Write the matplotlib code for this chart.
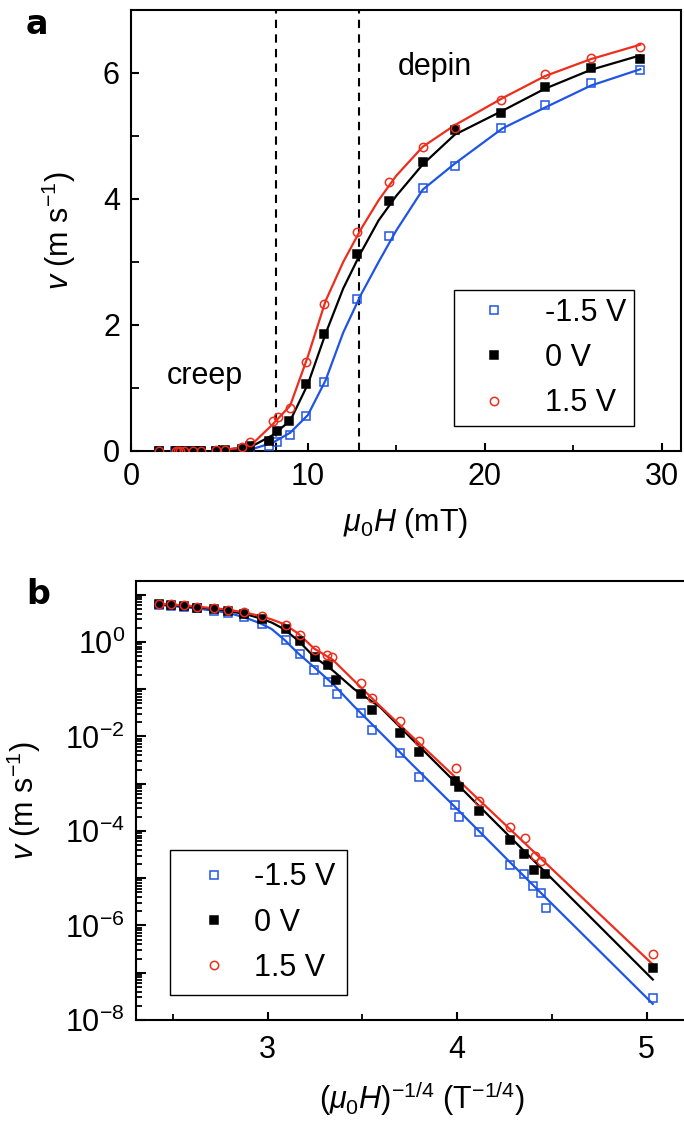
"""
Domain-wall velocity vs field at three gate voltages.
(a) linear v vs mu0H, (b) creep plot: log v vs (mu0H)^-1/4.
"""
import numpy as np
import matplotlib
matplotlib.use("Agg")
import matplotlib.pyplot as plt
from matplotlib.ticker import FixedLocator, LogLocator, FuncFormatter, NullFormatter

BLUE = "#1f55e4"; RED = "#ee2e1c"; INK = "black"
FS = 22
plt.rcParams.update({"font.family": "Liberation Sans", "font.size": FS,
    "mathtext.fontset": "custom", "mathtext.rm": "Liberation Sans",
    "mathtext.it": "Liberation Sans:italic", "mathtext.default": "it",
    "axes.linewidth": 1.5, "xtick.direction": "in", "ytick.direction": "in",
    "xtick.major.width": 1.5, "ytick.major.width": 1.5,
    "xtick.minor.width": 1.3, "ytick.minor.width": 1.3,
    "xtick.major.size": 6, "ytick.major.size": 6,
    "xtick.minor.size": 4, "ytick.minor.size": 4,
    "xtick.major.pad": 8, "ytick.major.pad": 8})

# ---- measured points: field (mT) and velocity (m/s) ---------------------------
labels = ["-1.5 V", "0 V", "1.5 V"]

H_neg = [1.56, 2.51, 2.57, 2.67, 2.78, 2.98, 3.48, 3.86, 3.95, 4.80, 5.33, 6.30, 6.72,
         7.81, 8.24, 9.0, 9.9, 10.9, 12.8, 14.6, 16.5, 18.3, 20.9, 23.4, 26.0, 28.8]
v_neg = [2.9e-8, 2.4e-6, 4.9e-6, 6.8e-6, 1.2e-5, 1.9e-5, 9.3e-5, 2.0e-4, 3.5e-4, 1.4e-3,
         4.5e-3, 0.0138, 0.031, 0.079, 0.14, 0.26, 0.55, 1.10, 2.42, 3.42, 4.17, 4.52,
         5.13, 5.50, 5.84, 6.04]

H_zero = [1.56, 2.52, 2.65, 2.78, 2.98, 3.48, 3.86, 3.95, 4.80, 5.33, 6.30, 6.72, 7.83,
          8.24, 8.95, 9.9, 10.9, 12.8, 14.6, 16.5, 18.3, 20.9, 23.4, 26.0, 28.8]
v_zero = [1.23e-7, 1.2e-5, 1.5e-5, 3.2e-5, 6.6e-5, 2.7e-4, 8.7e-4, 1.17e-3, 4.8e-3, 0.012,
          0.037, 0.079, 0.155, 0.32, 0.47, 1.07, 1.86, 3.12, 3.97, 4.58, 5.10, 5.36,
          5.77, 6.08, 6.22]

H_pos = [1.56, 2.57, 2.64, 2.77, 2.98, 3.48, 3.93, 4.80, 5.33, 6.30, 6.72, 8.03, 8.31,
         8.97, 9.9, 10.9, 12.8, 14.6, 16.5, 18.3, 20.9, 23.4, 26.0, 28.8]
v_pos = [2.45e-7, 2.3e-5, 2.9e-5, 7.1e-5, 1.23e-4, 4.3e-4, 2.1e-3, 8.1e-3, 0.021, 0.066,
         0.137, 0.47, 0.54, 0.68, 1.42, 2.34, 3.48, 4.27, 4.83, 5.13, 5.57, 5.98, 6.24, 6.42]

# ---- fitted curves at fixed field values ---------------------------------------
H_fit = [1.56, 2.5, 3.0, 3.5, 4.0, 5.0, 6.0, 7.0, 8.0, 9.0, 10.0, 11.0, 12.0, 13.0,
         14.0, 15.0, 16.5, 18.3, 21.0, 23.4, 26.0, 28.8]
fit_neg = [2.2e-8, 3.7e-6, 2.3e-5, 1.03e-4, 3.6e-4, 2.6e-3, 0.0123, 0.043, 0.13, 0.29,
           0.57, 1.12, 1.88, 2.48, 3.0, 3.5, 4.15, 4.56, 5.12, 5.45, 5.80, 6.06]
fit_zero = [7.2e-8, 1.26e-5, 7.9e-5, 3.5e-4, 1.22e-3, 8.9e-3, 0.042, 0.10, 0.25, 0.48,
            1.06, 1.86, 2.58, 3.15, 3.66, 4.05, 4.55, 5.02, 5.40, 5.75, 6.05, 6.28]
fit_pos = [1.5e-7, 2.0e-5, 1.15e-4, 4.7e-4, 1.55e-3, 0.0101, 0.044, 0.15, 0.42, 0.72,
           1.50, 2.38, 3.00, 3.52, 3.98, 4.37, 4.83, 5.17, 5.60, 5.95, 6.22, 6.45]

H_bounds = [8.2, 12.9]          # creep / depinning boundaries (mT)

series = [(H_neg, v_neg, fit_neg, BLUE, "s", "none"),
          (H_zero, v_zero, fit_zero, INK, "s", INK),
          (H_pos, v_pos, fit_pos, RED, "o", "none")]

def inv_quarter(h_mT):
    return (np.asarray(h_mT) / 1000.0) ** -0.25

W, Hpx = 684, 1122
fig = plt.figure(figsize=(W / 100, Hpx / 100), dpi=100)
axa = fig.add_axes([131 / W, 1 - 451 / Hpx, 550 / W, 441 / Hpx])
axb = fig.add_axes([136 / W, 1 - 1020 / Hpx, 572 / W, 439 / Hpx])

# ---- (a) linear --------------------------------------------------------------
Hf = np.asarray(H_fit)
for H, v, fit, c, m, fc in series:
    keep = Hf >= 5
    axa.plot(Hf[keep], np.asarray(fit)[keep], color=c, lw=1.6, zorder=2)
for H, v, fit, c, m, fc in series:
    axa.plot(H, v, ls="none", marker=m, ms=6, mfc=fc, mec=c, mew=1.1, zorder=3)
for h in H_bounds:
    axa.axvline(h, color=INK, ls=(0, (4, 3)), lw=1.5, zorder=1)
axa.set_xlim(0, 31.1); axa.set_ylim(0, 7)
axa.set_xticks([0, 10, 20, 30]); axa.set_xticks([5, 15, 25], minor=True)
axa.set_yticks([0, 2, 4, 6]); axa.set_yticks([1, 3, 5], minor=True)
axa.yaxis.set_tick_params(which="minor", length=6)
axa.set_xlabel(r"$\mu_0H$ (mT)", labelpad=10)
axa.set_ylabel(r"$v$ (m s$^{-1}$)")
axa.yaxis.set_label_coords(-0.096, 0.5)
axa.text(17.2, 6.1, "depin", ha="center", va="center", fontsize=FS)
axa.text(4.2, 1.19, "creep", ha="center", va="center", fontsize=FS)

# ---- (b) creep scaling -------------------------------------------------------
for H, v, fit, c, m, fc in series:
    axb.plot(inv_quarter(H_fit), fit, color=c, lw=1.6, zorder=2)
hb = []
for (H, v, fit, c, m, fc), lab in zip(series, labels):
    hb.append(axb.plot(inv_quarter(H), v, ls="none", marker=m, ms=6, mfc=fc, mec=c,
                       mew=1.1, zorder=3, label=lab)[0])
axb.set_yscale("log")
axb.set_xlim(2.306, 5.323); axb.set_ylim(1e-8, 19.5)
axb.set_xticks([3, 4, 5]); axb.set_xticks([2.5, 3.5, 4.5], minor=True)
axb.yaxis.set_major_locator(FixedLocator([10.0 ** k for k in range(-8, 2)]))
axb.yaxis.set_major_formatter(FuncFormatter(
    lambda y, _: "" if round(np.log10(y)) % 2 else r"$10^{%d}$" % round(np.log10(y))))
axb.yaxis.set_minor_locator(LogLocator(base=10, subs=np.arange(2, 10), numticks=30))
axb.yaxis.set_minor_formatter(NullFormatter())
axb.tick_params(axis="y", which="major", length=7)
axb.tick_params(axis="y", which="minor", length=4)
axb.tick_params(axis="x", which="major", pad=11)
axb.set_xlabel(r"($\mu_0H$)$^{-1/4}$ (T$^{-1/4}$)", labelpad=10)
axb.set_ylabel(r"$v$ (m s$^{-1}$)")
axb.yaxis.set_label_coords(-0.162, 0.5)

# ---- legends -----------------------------------------------------------------
leg_kw = dict(loc="upper left", borderaxespad=0, fancybox=False, edgecolor=INK,
              framealpha=1, fontsize=FS, handlelength=2.1, labelspacing=0.5)
la = axa.legend(hb, labels, bbox_to_anchor=(0.588, 0.365), handletextpad=0.6,
                borderpad=0.25, **leg_kw)
lb = axb.legend(hb, labels, bbox_to_anchor=(0.059, 0.387), handletextpad=0.25,
                borderpad=0.4, **leg_kw)
for lg in (la, lb):
    lg.get_frame().set_linewidth(1.0)

fig.text(37 / W, 1 - 25 / Hpx, "a", fontsize=24, fontweight="bold", ha="center",
         va="center", family="DejaVu Sans")
fig.text(38 / W, 1 - 594 / Hpx, "b", fontsize=24, fontweight="bold", ha="center",
         va="center", family="DejaVu Sans")

fig.savefig("out.png", dpi=100)
